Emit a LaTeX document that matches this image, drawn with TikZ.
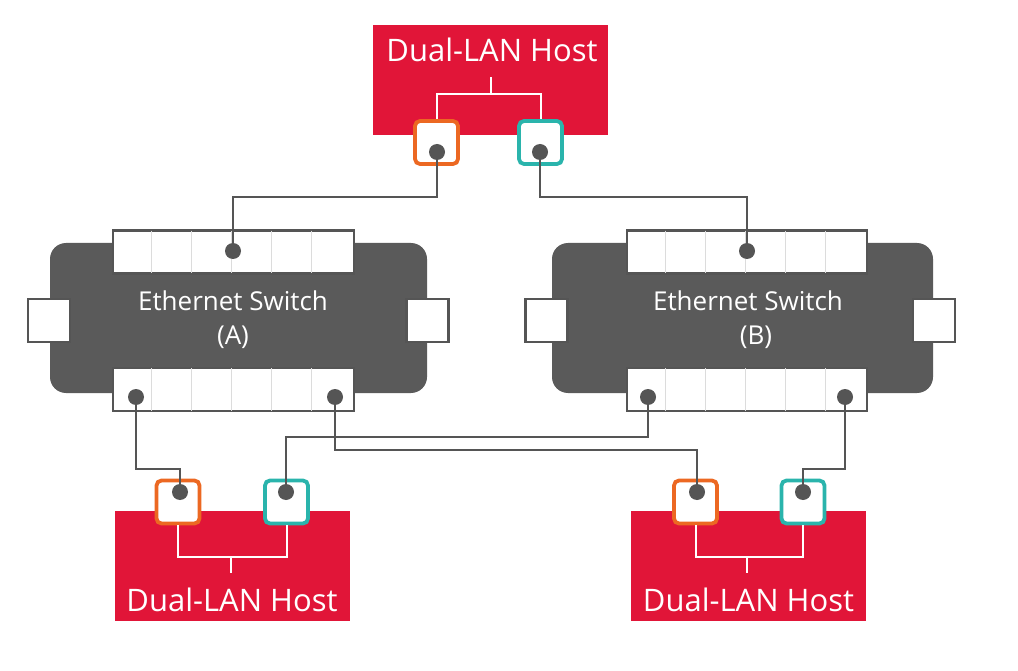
\documentclass[tikz,border=0pt]{standalone}
\usepackage{fontspec}
\setmainfont{Open Sans}
\usetikzlibrary{positioning}

\definecolor{hostred}{RGB}{225,21,56}
\definecolor{lanorange}{RGB}{236,104,34}
\definecolor{lanteal}{RGB}{42,180,172}
\definecolor{swgray}{RGB}{90,90,90}
\definecolor{wiregray}{RGB}{85,85,85}
\definecolor{cellgray}{RGB}{220,220,220}

\tikzset{
  host/.style={fill=hostred, minimum width=235, minimum height=110, inner sep=0},
  hosttext/.style={text=white, font=\fontsize{31}{34}\selectfont, inner sep=0},
  lan/.style={fill=white, line width=3.8, rounded corners=5, minimum width=43, minimum height=43, inner sep=0},
  bracket/.style={draw=white, line width=2},
  switch/.style={fill=swgray, rounded corners=16, minimum height=150, inner sep=0},
  swlabel/.style={text=white, align=center, font=\fontsize{26}{34}\selectfont, inner sep=0},
  strip/.style={draw=wiregray, fill=white, line width=2.5, minimum height=43, inner sep=0},
  sideport/.style={draw=wiregray, fill=white, line width=2.5, minimum width=42, minimum height=43, inner sep=0},
  cell/.style={draw=cellgray, line width=1},
  dot/.style={circle, fill=wiregray, minimum size=16, inner sep=0},
  wire/.style={draw=wiregray, line width=2.2}
}

\begin{document}
\begin{tikzpicture}[x=1pt,y=-1pt]
    \useasboundingbox (0,0) rectangle (1018,671);

    % hosts
    \node[host] (hT) at (490.5,80) {};
    \node[host] (hL) at (232,566) {};
    \node[host] (hR) at (748.5,566) {};
    \node[hosttext] (tT) at (492,50) {Dual-LAN Host};
    \node[hosttext] (tL) at (232,600) {Dual-LAN Host};
    \node[hosttext] (tR) at (748.5,600) {Dual-LAN Host};

    % host ports
    \coordinate (bT) at (491,94);
    \coordinate (bL) at (231,557);
    \coordinate (bR) at (747,557);
    \node[lan, draw=lanorange] (pTo) at (436.5,142.5) {};
    \node[lan, draw=lanteal] (pTt) at (540.5,142.5) {};
    \node[lan, draw=lanorange] (pLo) at (178,502) {};
    \node[lan, draw=lanteal] (pLt) at (286.5,502) {};
    \node[lan, draw=lanorange] (pRo) at (695.5,502) {};
    \node[lan, draw=lanteal] (pRt) at (803,502) {};
    \draw[bracket] (pTo) |- (bT) -| (pTt);
    \draw[bracket] (bT) -- ++(0,-17);
    \draw[bracket] (pLo) |- (bL) -| (pLt);
    \draw[bracket] (bL) -- ++(0,16);
    \draw[bracket] (pRo) |- (bR) -| (pRt);
    \draw[bracket] (bR) -- ++(0,16);

    % switches
    \node[switch, minimum width=377] (sA) at (238.5,318) {};
    \node[switch, minimum width=381] (sB) at (742.5,318) {};
    \node[swlabel] (lA) at (233,320) {Ethernet Switch\\(A)};
    \node[swlabel] (lB) at (748,320) {Ethernet Switch\\\hspace*{16pt}(B)};
    \node[sideport] (sAl) at (49,320.5) {};
    \node[sideport] (sAr) at (427.5,320.5) {};
    \node[sideport] (sBl) at (546.5,320.5) {};
    \node[sideport] (sBr) at (934,320.5) {};
    \node[strip, minimum width=241] (sAt) at (233.5,252) {};
    \node[strip, minimum width=241] (sAb) at (233.5,389.5) {};
    \node[strip, minimum width=240] (sBt) at (747,252) {};
    \node[strip, minimum width=240] (sBb) at (747,389.5) {};
    \foreach \s in {sAt,sAb,sBt,sBb}
      \foreach \i in {1,...,5}
        \draw[cell] ([xshift=\i*40pt, yshift=-1.5pt]\s.north west) -- ([xshift=\i*40pt, yshift=1.5pt]\s.south west);

    % dots
    \node[dot] (dTo) at (437,152) {};
    \node[dot] (dTt) at (540,152) {};
    \node[dot] (dAt) at (233,251) {};
    \node[dot] (dAb1) at (136,397) {};
    \node[dot] (dAb2) at (335,397) {};
    \node[dot] (dBt) at (747,251) {};
    \node[dot] (dBb1) at (648,397) {};
    \node[dot] (dBb2) at (845,397) {};
    \node[dot] (dLo) at (180,492) {};
    \node[dot] (dLt) at (286,492) {};
    \node[dot] (dRo) at (697,492) {};
    \node[dot] (dRt) at (803,492) {};

    % wires
    \coordinate (w1) at (0,197);
    \coordinate (w3) at (0,469);
    \coordinate (w4) at (0,450);
    \coordinate (w5) at (0,437);
    \draw[wire] (dTo) -- (dTo |- w1) -| (dAt);
    \draw[wire] (dTt) -- (dTt |- w1) -| (dBt);
    \draw[wire] (dAb1) -- (dAb1 |- w3) -| (dLo);
    \draw[wire] (dAb2) -- (dAb2 |- w4) -| (dRo);
    \draw[wire] (dBb1) -- (dBb1 |- w5) -| (dLt);
    \draw[wire] (dBb2) -- (dBb2 |- w3) -| (dRt);
\end{tikzpicture}
\end{document}
